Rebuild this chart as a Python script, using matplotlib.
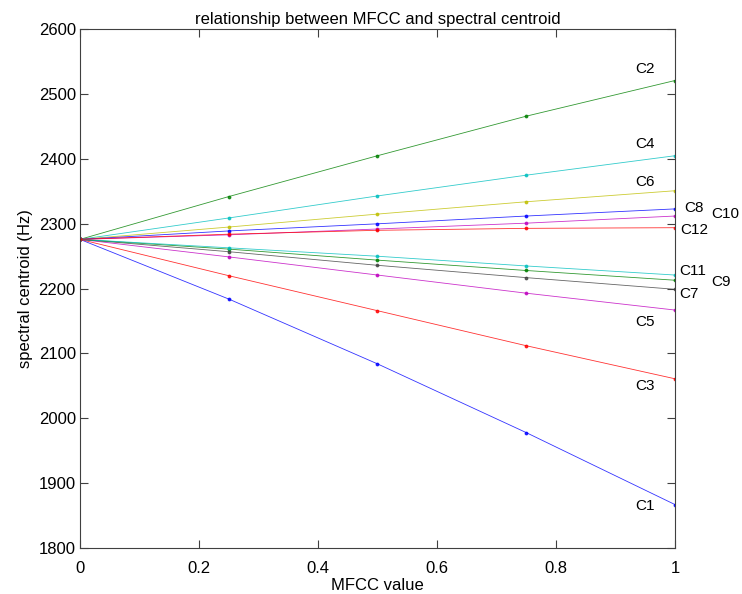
import numpy as np
import matplotlib
matplotlib.use('Agg')
import matplotlib.pyplot as plt

plt.rcParams['font.family'] = ['Liberation Sans', 'DejaVu Sans']

### MFCC value axis (points on every line)
mfcc = [0, 0.25, 0.5, 0.75, 1.0]

### spectral centroid (Hz) for each coefficient
C1 = [2276, 2184, 2084, 1978, 1867]
C2 = [2276, 2342, 2405, 2466, 2521]
C3 = [2276, 2220, 2166, 2112, 2061]
C4 = [2276, 2309, 2343, 2375, 2405]
C5 = [2276, 2249, 2221, 2193, 2167]
C6 = [2276, 2295, 2315, 2334, 2351]
C7 = [2276, 2257, 2236, 2217, 2199]
C8 = [2276, 2289, 2300, 2312, 2323]
C9 = [2276, 2261, 2244, 2228, 2213]
C10 = [2276, 2283, 2292, 2301, 2312]
C11 = [2276, 2263, 2250, 2235, 2221]
C12 = [2276, 2284, 2290, 2293, 2294]

names = ['C1', 'C2', 'C3', 'C4', 'C5', 'C6', 'C7', 'C8', 'C9', 'C10', 'C11', 'C12']
series = [C1, C2, C3, C4, C5, C6, C7, C8, C9, C10, C11, C12]

### matlab-ish colours
blue = (0, 0, 1)
green = (0, 0.5, 0)
red = (1, 0, 0)
cyan = (0, 0.75, 0.75)
magenta = (0.75, 0, 0.75)
yellow = (0.75, 0.75, 0)
black = (0.25, 0.25, 0.25)
colours = [blue, green, red, cyan, magenta, yellow, black,
           blue, green, magenta, cyan, red]

### label positions (data coords)
labpos = {'C1': (0.95, 1865), 'C2': (0.95, 2538), 'C3': (0.95, 2050),
          'C4': (0.95, 2423), 'C5': (0.95, 2148), 'C6': (0.95, 2364),
          'C7': (1.024, 2192), 'C8': (1.032, 2325), 'C9': (1.078, 2210),
          'C10': (1.085, 2315), 'C11': (1.030, 2227), 'C12': (1.032, 2291)}

fig = plt.figure(figsize=(7.42, 5.94), dpi=100)
ax = fig.add_axes([0.1078, 0.0774, 0.8019, 0.8733])

for name, vals, col in zip(names, series, colours):
    ax.plot(mfcc, vals, '-', color=col, lw=0.6, marker='.', ms=3.5, alpha=0.8)
    tx, ty = labpos[name]
    ax.text(tx, ty, name, ha='center', va='center', fontsize=11,
            clip_on=False)

ax.set_xlim(0, 1)
ax.set_ylim(1800, 2600)
ax.set_xticks([0, 0.2, 0.4, 0.6, 0.8, 1])
ax.set_xticklabels(['0', '0.2', '0.4', '0.6', '0.8', '1'])
ax.set_yticks(np.arange(1800, 2601, 100))
ax.tick_params(direction='in', top=True, right=True, length=6,
               width=0.8, color='#404040', labelsize=12)
ax.tick_params(axis='x', pad=9)
ax.tick_params(axis='y', pad=3)
for sp in ax.spines.values():
    sp.set_color('#404040')
    sp.set_linewidth(0.8)

ax.set_title('relationship between MFCC and spectral centroid', fontsize=12, pad=4)
ax.set_xlabel('MFCC value', fontsize=12, labelpad=2)
ax.set_ylabel('spectral centroid (Hz)', fontsize=12, labelpad=4)

fig.savefig('out.png', dpi=100)
